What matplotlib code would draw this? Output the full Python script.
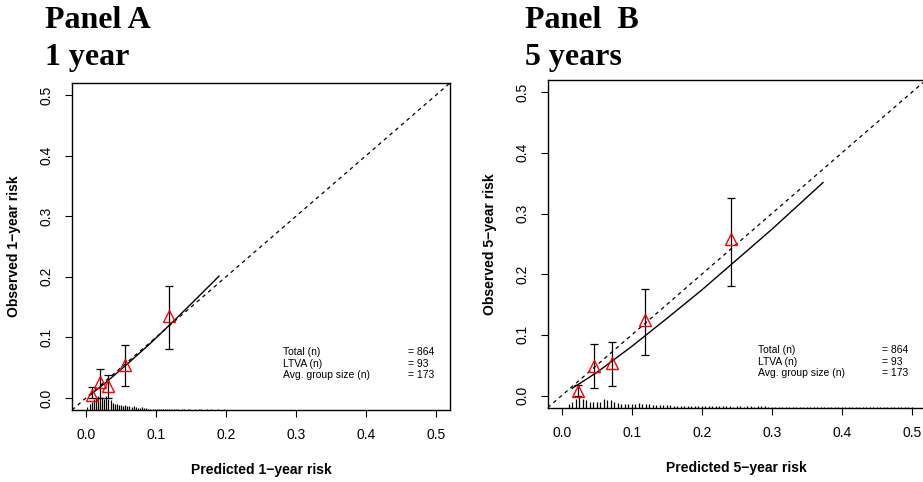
import numpy as np
import matplotlib
matplotlib.use("Agg")
import matplotlib.pyplot as plt

plt.rcParams['font.family'] = ['Liberation Sans', 'DejaVu Sans']

# Panel A: 1 year -- grouped observed vs predicted, with CI
pred_1y = [0.009, 0.020, 0.032, 0.056, 0.119]
obs_1y = [0.005, 0.026, 0.019, 0.055, 0.135]
lo_1y = [0.000, 0.000, 0.000, 0.019, 0.080]
hi_1y = [0.018, 0.047, 0.038, 0.088, 0.184]
# smoothed calibration curve
curve_x_1y = [0.005, 0.03, 0.06, 0.09, 0.12, 0.15, 0.19]
curve_y_1y = [0.004, 0.027, 0.057, 0.088, 0.121, 0.155, 0.201]
# spike histogram of predicted risk (relative counts), bins from 0.002 by 0.003
spike_start_1y, spike_step_1y = 0.002, 0.003
spike_1y = [2, 4, 6, 8, 9, 10, 9, 9, 8, 10, 8, 7, 5, 4, 4, 3.5, 3.5, 3, 3.5, 3,
            3, 2.5, 3, 2.5, 1.5, 1.5, 2, 1.5, 1.5, 1, 1, 1, 1, 0.6, 0.6, 0.8, 0.6,
            0.6, 0.6, 0.5, 0.5, 0.5, 0.5, 0.5, 0, 0.5, 0.5, 0, 0.5, 0.5, 0, 0.5,
            0, 0.5, 0.5, 0, 0, 0.5, 0, 0.5, 0, 0, 0.5, 0, 0, 0.5]

# Panel B: 5 years
pred_5y = [0.023, 0.046, 0.072, 0.119, 0.242]
obs_5y = [0.008, 0.049, 0.054, 0.124, 0.258]
lo_5y = [0.000, 0.012, 0.016, 0.067, 0.181]
hi_5y = [0.018, 0.085, 0.089, 0.176, 0.326]
curve_x_5y = [0.015, 0.05, 0.10, 0.15, 0.20, 0.25, 0.30, 0.373]
curve_y_5y = [0.012, 0.038, 0.081, 0.127, 0.174, 0.224, 0.274, 0.351]
spike_start_5y, spike_step_5y = 0.010, 0.005
spike_5y = [3, 5, 7, 9, 7, 6, 5, 5, 5, 5, 7, 6, 6, 5, 3.5, 3, 3, 3, 3, 3,
            3.5, 3, 3, 3, 2.5, 2.5, 2.5, 2, 2, 2, 1.5, 1.5, 1.5, 1.5, 1.5,
            1.2, 1, 1, 1.2, 1, 1, 1, 1.2, 1, 1, 1, 1, 0.8, 1, 1, 0.8, 1, 1,
            0.8, 1, 1.5, 1, 0.8, 0.8,
            0.6, 0.6, 0.6, 0.6, 0.6, 0.6, 0.6, 0.6, 0.6, 0.6, 0.6, 0.6, 0.6,
            0.6, 0.6, 0.6, 0.6, 0.6, 0.6, 0.6, 0.6, 0.6, 0.6, 0.6, 0.6, 0.6,
            0.6, 0.6, 0.6, 0.6, 0.6, 0.6, 0.6, 0.6, 0.6, 0.6, 0.6, 0.6, 0.6, 0.6]

stats_labels = ['Total (n)', 'LTVA (n)', 'Avg. group size (n)']
stats_values = ['= 864', '= 93', '= 173']
ticks = [0.0, 0.1, 0.2, 0.3, 0.4, 0.5]


def draw_panel(ax, pred, obs, lo, hi, cx, cy, s0, sstep, spikes, sscale,
               xlab, ylab, stat_x, stat_y):
    ax.set_xlim(-0.02, 0.52)
    ax.set_ylim(-0.02, 0.52)
    ax.axline((0, 0), slope=1, color='black', lw=0.9, ls=(0, (3, 3)))
    ax.plot(cx, cy, color='black', lw=1.0)
    sx = s0 + sstep * np.arange(len(spikes))
    ax.vlines(sx, -0.02, -0.02 + np.array(spikes) * sscale, color='black', lw=0.9)
    yerr = [np.subtract(obs, lo), np.subtract(hi, obs)]
    ax.errorbar(pred, obs, yerr=yerr, fmt='none', ecolor='black',
                elinewidth=0.9, capsize=3, capthick=0.9)
    ax.plot(pred, obs, ls='none', marker='^', ms=8, mfc='none', mec='red', mew=1)

    ax.set_xticks(ticks)
    ax.set_yticks(ticks)
    ax.set_xticklabels(['%.1f' % t for t in ticks])
    ax.set_yticklabels(['%.1f' % t for t in ticks], rotation=90, va='center')
    ax.tick_params(direction='out', length=5, width=0.8, labelsize=10, pad=8)
    for s in ax.spines.values():
        s.set_linewidth(1.0)

    ax.set_xlabel(xlab, fontsize=10, fontweight='bold')
    ax.xaxis.set_label_coords(0.5, -0.183)
    ax.xaxis.label.set_va('center')
    ax.set_ylabel(ylab, fontsize=10, fontweight='bold')
    ax.yaxis.set_label_coords(-0.153, 0.5)
    ax.yaxis.label.set_va('center')

    for lab, val, yy in zip(stats_labels, stats_values, stat_y):
        ax.text(stat_x[0], yy, lab, transform=ax.transAxes, fontsize=7.5, va='center')
        ax.text(stat_x[1], yy, val, transform=ax.transAxes, fontsize=7.5, va='center')


fig = plt.figure(figsize=(9.23, 4.82), dpi=100)
axA = fig.add_axes([72 / 923, 72 / 482, 378 / 923, 327 / 482])
axB = fig.add_axes([547.7 / 923, 74.3 / 482, 378.3 / 923, 327.7 / 482])

draw_panel(axA, pred_1y, obs_1y, lo_1y, hi_1y, curve_x_1y, curve_y_1y,
           spike_start_1y, spike_step_1y, spike_1y, 0.0023,
           'Predicted 1\u2212year risk', 'Observed 1\u2212year risk',
           (0.558, 0.889), (0.177, 0.142, 0.108))
draw_panel(axB, pred_5y, obs_5y, lo_5y, hi_5y, curve_x_5y, curve_y_5y,
           spike_start_5y, spike_step_5y, spike_5y, 0.002,
           'Predicted 5\u2212year risk', 'Observed 5\u2212year risk',
           (0.557, 0.883), (0.176, 0.140, 0.105))

title_font = dict(family='Liberation Serif', fontweight='bold', fontsize=23, va='baseline')
fig.text(45 / 923, 1 - 28.5 / 482, 'Panel A', **title_font)
fig.text(45 / 923, 1 - 65 / 482, '1 year', **title_font)
fig.text(525 / 923, 1 - 28.5 / 482, 'Panel  B', **title_font)
fig.text(525 / 923, 1 - 65 / 482, '5 years', **title_font)

fig.savefig('out.png', dpi=100)
